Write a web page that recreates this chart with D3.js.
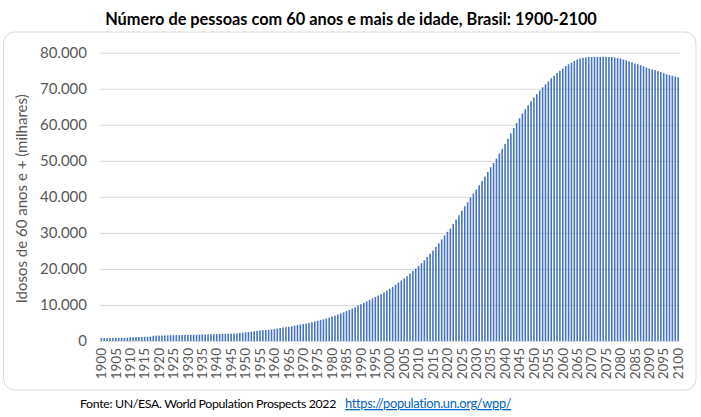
<!DOCTYPE html>
<html>
<head>
<meta charset="utf-8">
<script src="https://cdn.jsdelivr.net/npm/d3@7"></script>
<style>
  html, body { margin: 0; padding: 0; background: #fff; }
  svg { display: block; }
</style>
</head>
<body>
<svg id="chart" width="701" height="417"></svg>
<script>
// ---- Data (thousands of people aged 60+) ----
const startYear = 1900;
const endYear = 2100;
const years = d3.range(startYear, endYear + 1);
const values = [
  // 1900-1909
  800, 810, 820, 830, 840, 850, 860, 870, 880, 900,
  // 1910-1919
  1050, 1070, 1090, 1110, 1130, 1150, 1180, 1210, 1450, 1480,
  // 1920-1929
  1500, 1520, 1540, 1560, 1580, 1600, 1620, 1640, 1660, 1680,
  // 1930-1939
  1700, 1720, 1740, 1760, 1780, 1800, 1820, 1840, 1860, 1880,
  // 1940-1949
  1900, 1930, 1960, 1990, 2020, 2050, 2080, 2110, 2200, 2300,
  // 1950-1959
  2400, 2500, 2600, 2700, 2800, 2900, 3000, 3050, 3100, 3200,
  // 1960-1969
  3300, 3450, 3600, 3750, 3850, 3950, 4100, 4250, 4400, 4550,
  // 1970-1979
  4700, 4850, 5000, 5200, 5400, 5600, 5800, 6000, 6250, 6500,
  // 1980-1989
  6800, 7050, 7350, 7650, 7950, 8300, 8650, 9000, 9400, 9800,
  // 1990-1999
  10200, 10600, 11000, 11400, 11800, 12200, 12600, 13000, 13500, 14000,
  // 2000-2009
  14500, 15000, 15600, 16200, 16800, 17400, 18000, 18700, 19400, 20100,
  // 2010-2019
  20800, 21600, 22400, 23300, 24200, 25100, 26100, 27100, 28200, 29300,
  // 2020-2029
  30300, 31200, 32500, 33700, 34900, 36100, 37400, 38500, 39800, 40900,
  // 2030-2039
  42000, 43200, 44400, 45600, 46900, 48200, 49400, 50600, 52000, 53300,
  // 2040-2049
  54700, 56100, 57600, 59100, 60500, 61800, 63100, 64300, 65400, 66500,
  // 2050-2059
  67600, 68500, 69500, 70400, 71200, 72000, 72900, 73600, 74400, 75000,
  // 2060-2069
  75600, 76300, 76800, 77200, 77700, 78100, 78400, 78600, 78700, 78800,
  // 2070-2079
  78800, 78850, 78850, 78850, 78850, 78850, 78800, 78800, 78700, 78500,
  // 2080-2089
  78400, 78100, 77900, 77600, 77300, 77000, 76800, 76500, 76200, 75900,
  // 2090-2099
  75600, 75400, 75200, 74900, 74600, 74300, 74000, 73800, 73600, 73400,
  // 2100
  73200
];
const yTicks = [0, 10000, 20000, 30000, 40000, 50000, 60000, 70000, 80000];
const xTickYears = years.filter(y => (y - startYear) % 5 === 0);

const titleText = "Número de pessoas com 60 anos e mais de idade, Brasil: 1900-2100";
const yAxisTitle = "Idosos de 60 anos e + (milhares)";
const sourceText = "Fonte: UN/ESA. World Population Prospects 2022";
const sourceLink = "https://population.un.org/wpp/";

// ---- Layout ----
const svg = d3.select("#chart");
const plot = { left: 100, right: 679.5, top: 52.7, bottom: 341 };
const fontFamily = "Lato, 'Open Sans', 'Liberation Sans', sans-serif";
const grey = "#595959";

const locale = d3.formatLocale({ decimal: ",", thousands: ".", grouping: [3], currency: ["R$", ""] });
const fmt = locale.format(",d");

const x = d3.scaleBand().domain(years).range([plot.left, plot.right]).paddingInner(0.45).paddingOuter(0.2);
const y = d3.scaleLinear().domain([0, 80000]).range([plot.bottom, plot.top]);

// scale a text's font size so its natural width matches a target width
function fit(sel, target) {
  const w = sel.node().getComputedTextLength();
  const fs = parseFloat(sel.attr("font-size"));
  sel.attr("font-size", (fs * target / w).toFixed(2));
}

// Frame
svg.append("rect")
  .attr("x", 3.5).attr("y", 32).attr("width", 692.5).attr("height", 358)
  .attr("rx", 11).attr("ry", 11)
  .attr("fill", "#fff").attr("stroke", "#d9d9d9").attr("stroke-width", 1);

// Title
const title = svg.append("text")
  .attr("x", 351).attr("y", 25)
  .attr("text-anchor", "middle")
  .attr("font-family", fontFamily).attr("font-weight", "bold")
  .attr("font-size", 16).attr("fill", "#000")
  .text(titleText);
fit(title, 492);

// Gridlines + y tick labels
const yAxis = d3.axisLeft(y).tickValues(yTicks).tickFormat(fmt)
  .tickSize(-(plot.right - plot.left)).tickPadding(13);
const gy = svg.append("g").attr("transform", `translate(${plot.left},0)`).call(yAxis);
gy.select(".domain").remove();
gy.selectAll(".tick line").attr("stroke", "#d9d9d9").attr("stroke-width", 1);
gy.selectAll(".tick text")
  .attr("font-family", fontFamily).attr("font-size", 15).attr("fill", grey);

// Bars
svg.append("g").selectAll("rect")
  .data(years)
  .join("rect")
  .attr("x", d => x(d))
  .attr("width", x.bandwidth())
  .attr("y", (d, i) => y(values[i]))
  .attr("height", (d, i) => y(0) - y(values[i]))
  .attr("fill", "#4472C4");

// X axis
const xAxis = d3.axisBottom(x).tickValues(xTickYears).tickSize(0).tickPadding(0);
const gx = svg.append("g").attr("transform", `translate(0,${plot.bottom})`).call(xAxis);
gx.select(".domain").attr("stroke", "#d9d9d9").attr("d", `M${plot.left},0.5H${plot.right}`);
gx.selectAll(".tick text")
  .attr("font-family", fontFamily).attr("font-size", 13.5).attr("fill", grey)
  .attr("transform", "rotate(-90)")
  .attr("text-anchor", "end")
  .attr("x", -7).attr("y", 0).attr("dy", "0.35em");

// Y axis title
svg.append("text")
  .attr("transform", `translate(27,${(plot.top + plot.bottom) / 2 + 2}) rotate(-90)`)
  .attr("text-anchor", "middle")
  .attr("font-family", fontFamily).attr("font-size", 15).attr("fill", grey)
  .text(yAxisTitle);

// Source footer (two separate texts)
const src = svg.append("text")
  .attr("x", 80).attr("y", 408)
  .attr("font-family", fontFamily).attr("font-size", 14).attr("fill", "#000")
  .attr("letter-spacing", "-0.35px")
  .text(sourceText);
fit(src, 258);
const link = svg.append("text")
  .attr("x", 345).attr("y", 408)
  .attr("font-family", fontFamily).attr("font-size", 14).attr("fill", "#0563C1")
  .attr("letter-spacing", "-0.35px")
  .attr("text-decoration", "underline")
  .text(sourceLink);
fit(link, 167);
</script>
</body>
</html>
